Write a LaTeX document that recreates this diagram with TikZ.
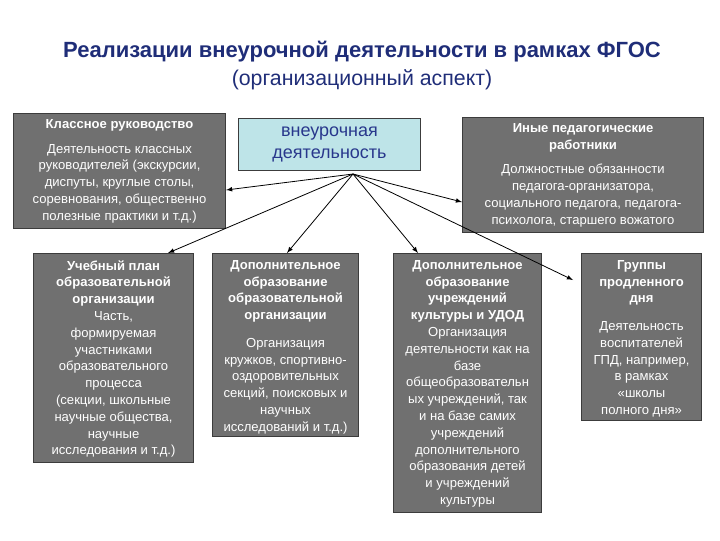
\documentclass[tikz,border=0pt]{standalone}
\usepackage{fontspec}
\setmainfont{Liberation Sans}
\usetikzlibrary{calc}

\tikzset{every picture/.style={line width=0.55pt}}
\tikzset{
  greybox/.style={draw={rgb,255:red,60;green,60;blue,60}, fill={rgb,255:red,112;green,112;blue,112}, line width=0.8pt, inner sep=0pt, anchor=north west},
  boxtext/.style={anchor=north, align=center, text=white, inner sep=0pt, font=\fontsize{9.8}{12.6}\selectfont},
  link/.style={-latex, line width=0.6pt}
}

\begin{document}
\begin{tikzpicture}[x=0.75pt,y=0.75pt,yscale=-1,xscale=1]
\useasboundingbox (0,0) rectangle (720,540);

% Title
\node (title) at (362,52) [font=\fontsize{16.5}{20}\selectfont\bfseries, text={rgb,255:red,31;green,45;blue,120}] {Реализации внеурочной деятельности в рамках ФГОС};
\node (subtitle) at (362,80) [font=\fontsize{16}{20}\selectfont, text={rgb,255:red,31;green,45;blue,120}] {(организационный аспект)};

% Central box
\node (hub) at (238,118) [anchor=north west, draw={rgb,255:red,60;green,60;blue,60}, fill={rgb,255:red,190;green,228;blue,232}, line width=0.8pt, minimum width=136.5pt, minimum height=39pt, align=center, text={rgb,255:red,40;green,55;blue,140}, font=\fontsize{13.5}{16}\selectfont] {внеурочная\\деятельность};
\coordinate (hubpt) at (353,174);

% Upper boxes
\node (lt) at (13,113) [greybox, minimum width=159pt, minimum height=86.25pt] {};
\node (lttext) at ($(lt.north)+(0,6)$) [boxtext] {\textbf{Классное руководство}\\[6pt]Деятельность классных\\руководителей (экскурсии,\\диспуты, круглые столы,\\соревнования, общественно\\полезные практики и т.д.)};

\node (rt) at (462,117) [greybox, minimum width=180.75pt, minimum height=86.25pt] {};
\node (rttext) at ($(rt.north)+(0,6)$) [boxtext] {\textbf{Иные педагогические}\\\textbf{работники}\\[6pt]Должностные обязанности\\педагога-организатора,\\социального педагога, педагога-\\психолога, старшего вожатого};

% Lower boxes
\node (bl) at (33,253) [greybox, minimum width=120pt, minimum height=156.75pt] {};
\node (bltext) at ($(bl.north)+(0,7)$) [boxtext] {\textbf{Учебный план}\\\textbf{образовательной}\\\textbf{организации}\\Часть,\\формируемая\\участниками\\образовательного\\процесса\\(секции, школьные\\научные общества,\\научные\\исследования и т.д.)};

\node (bm) at (212,253) [greybox, minimum width=109.5pt, minimum height=137.25pt] {};
\node (bmtext) at ($(bm.north)+(0,7)$) [boxtext] {\textbf{Дополнительное}\\\textbf{образование}\\\textbf{образовательной}\\\textbf{организации}\\[8pt]Организация\\кружков, спортивно-\\оздоровительных\\секций, поисковых и\\научных\\исследований и т.д.)};

\node (bc) at (393,253) [greybox, minimum width=111pt, minimum height=194.25pt] {};
\node (bctext) at ($(bc.north)+(0,7)$) [boxtext] {\textbf{Дополнительное}\\\textbf{образование}\\\textbf{учреждений}\\\textbf{культуры и УДОД}\\Организация\\деятельности как на\\базе\\общеобразовательн\\ых учреждений, так\\и на базе самих\\учреждений\\дополнительного\\образования детей\\и учреждений\\культуры};

\node (br) at (581,253) [greybox, minimum width=90pt, minimum height=125.25pt] {};
\node (brtext) at ($(br.north)+(0,7)$) [boxtext] {\textbf{Группы}\\\textbf{продленного}\\\textbf{дня}\\[8pt]Деятельность\\воспитателей\\ГПД, например,\\в рамках\\«школы\\полного дня»};

% Links
\draw [link] (hubpt) -- ($(lt.north east)+(0,77)$);
\draw [link] (hubpt) -- ($(rt.north west)+(0,85)$);
\draw [link] (hubpt) -- ($(bl.north west)+(135,0)$);
\draw [link] (hubpt) -- ($(bm.north west)+(75,0)$);
\draw [link] (hubpt) -- ($(bc.north west)+(25,0)$);
\draw [link] (hubpt) -- ($(br.north west)+(-8,27)$);
\end{tikzpicture}
\end{document}
